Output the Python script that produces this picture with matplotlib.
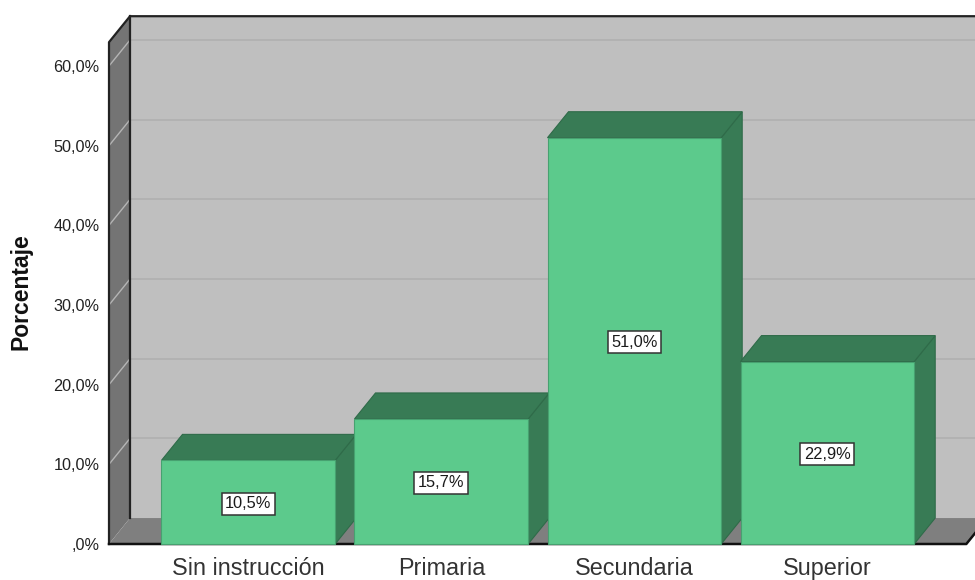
#! /usr/bin/env python3

import matplotlib
matplotlib.use("Agg")
import matplotlib.pyplot as plt
from matplotlib.patches import Polygon, Rectangle
from matplotlib.transforms import ScaledTranslation

categories = ["Sin instrucción", "Primaria", "Secundaria", "Superior"]
values = [10.5, 15.7, 51.0, 22.9]
value_labels = ["10,5%", "15,7%", "51,0%", "22,9%"]
y_ticks = [0, 10, 20, 30, 40, 50, 60]
y_tick_labels = [",0%", "10,0%", "20,0%", "30,0%", "40,0%", "50,0%", "60,0%"]

plt.rcParams["font.family"] = ["Liberation Sans", "DejaVu Sans"]

fig = plt.figure(figsize=(9.75, 5.8), dpi=100)
ax = fig.add_axes([109 / 975, 36 / 580, 866 / 975, 478 / 580])
ax.set_xlim(-0.722, 3.765)
ax.set_ylim(0, 60)

# depth of the fake 3d box, in data units
dx = 21 / 193
dy = 3.26
width = 0.9
left = -0.722
right = 3.72
top = 66.25
dark = "#222222"
down = ScaledTranslation(0, -1.5 / 100, fig.dpi_scale_trans)

def poly(pts, color, edge="none", lw=0, z=1):
    ax.add_patch(Polygon(pts, closed=True, facecolor=color, edgecolor=edge,
                         linewidth=lw, clip_on=False, zorder=z))

# walls and floor
poly([(left + dx, dy), (right + 0.2, dy), (right + 0.2, top), (left + dx, top)], "#bfbfbf")
poly([(left, 0), (left + dx, dy), (left + dx, top), (left, top - dy)], "#747474")
poly([(left, 0), (right, 0), (right + dx, dy), (left + dx, dy)], "#7f7f7f")

# grid lines
for t in y_ticks[1:]:
    ax.plot([left, left + dx], [t, t + dy], color="#b5b5b5", lw=1, clip_on=False, zorder=2)
    ax.plot([left + dx, right + 0.2], [t + dy, t + dy], color="#b0b0b0", lw=1.2,
            clip_on=False, zorder=2)

# frame
ax.plot([left, left, left + dx, right + 0.2], [0, top - dy, top, top], color=dark, lw=1.6,
        clip_on=False, zorder=3)
ax.plot([left + dx, left + dx], [dy, top], color=dark, lw=1.6, clip_on=False, zorder=3)
ax.plot([left, right, right + dx], [0, 0, dy], color="#111111", lw=1.8, clip_on=False, zorder=3)

# bars
for i, v in enumerate(values):
    x0 = i - width / 2
    x1 = i + width / 2
    poly([(x1, 0), (x1 + dx, dy), (x1 + dx, v + dy), (x1, v)], "#387b55", "#2f6b49", 0.8, 4)
    poly([(x0, v), (x0 + dx, v + dy), (x1 + dx, v + dy), (x1, v)], "#387b55", "#2f6b49", 0.8, 4)
    ax.add_patch(Rectangle((x0, 0), width, v, facecolor="#5cca8c", edgecolor="#47a170",
                           linewidth=0.8, clip_on=False, zorder=4))
    ax.text(i, v / 2, value_labels[i], ha="center", va="center", fontsize=11.8,
            color="#1a1a1a", zorder=5, transform=ax.transData + down,
            bbox=dict(boxstyle="square,pad=0.22", facecolor="white", edgecolor="#333333", linewidth=1.1))

for s in ax.spines.values():
    s.set_visible(False)
ax.patch.set_visible(False)
ax.set_xticks(range(len(categories)))
ax.set_xticklabels(categories, fontsize=16.8, color="#333333")
ax.set_yticks(y_ticks)
ax.set_yticklabels(y_tick_labels, fontsize=11.7, color="#222222", va="top")
ax.tick_params(axis="x", length=0, pad=9.5)
ax.tick_params(axis="y", length=0, pad=7)
for lab in ax.get_yticklabels():
    lab.set_va("center_baseline")
fig.text(21 / 975, 1 - 292 / 580, "Porcentaje", rotation=90, ha="center", va="center",
         fontsize=16.5, fontweight="bold", color="#111111")

fig.savefig("out.png", dpi=100)
